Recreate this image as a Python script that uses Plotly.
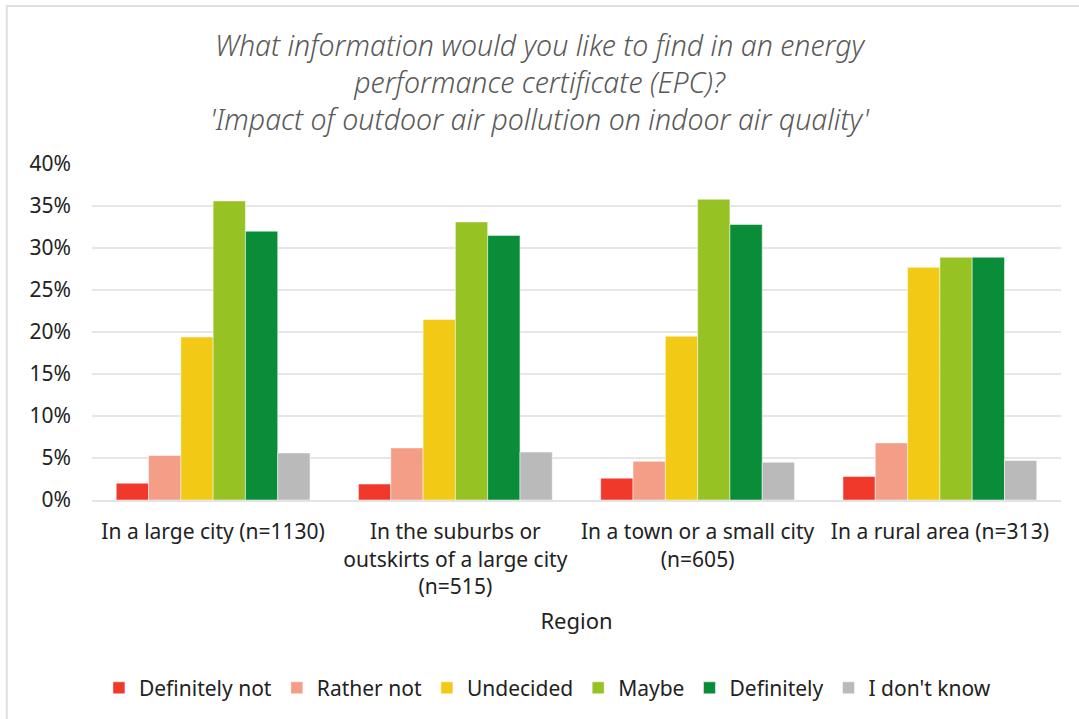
import plotly.graph_objects as go

# regions on the x axis
regions = [
    "In a large city (n=1130)",
    "In the suburbs or<br>outskirts of a large city<br>(n=515)",
    "In a town or a small city<br>(n=605)",
    "In a rural area (n=313)",
]

# shares in % per answer, one value per region
definitely_not = [2.0, 1.9, 2.6, 2.8]
rather_not = [5.3, 6.2, 4.6, 6.8]
undecided = [19.4, 21.5, 19.5, 27.7]
maybe = [35.6, 33.1, 35.8, 28.9]
definitely = [32.0, 31.5, 32.8, 28.9]
dont_know = [5.6, 5.7, 4.5, 4.7]

answers = ["Definitely not", "Rather not", "Undecided", "Maybe", "Definitely", "I don't know"]
series = [definitely_not, rather_not, undecided, maybe, definitely, dont_know]
colors = ["#f0392b", "#f49d87", "#f2c914", "#96c224", "#098d39", "#bababa"]

fig = go.Figure()
for name, vals, col in zip(answers, series, colors):
    fig.add_trace(go.Bar(x=regions, y=vals, name=name, marker_color=col,
                         marker_line_color="white", marker_line_width=0.5))

fig.update_layout(
    width=1079, height=719,
    paper_bgcolor="white", plot_bgcolor="white",
    margin=dict(l=92, r=18, t=164, b=219, autoexpand=False),
    barmode="group", bargap=0.2, bargroupgap=0,
    font=dict(family="Noto Sans", color="#222222", size=20),
    title=dict(
        text="<i>What information would you like to find in an energy<br>"
             "performance certificate (EPC)?<br>"
             "'Impact of outdoor air pollution on indoor air quality'</i>",
        x=0.5, xanchor="center", yref="container", y=1 - 56 / 719, yanchor="top",
        font=dict(family="Noto Sans", size=28.5, color="#595959", weight=300),
    ),
    legend=dict(orientation="h", x=0.47, xanchor="center", y=-0.56, yanchor="middle",
                font=dict(size=21), itemwidth=30, traceorder="normal"),
    showlegend=True,
)
fig.update_xaxes(title=dict(text="Region", font=dict(size=22), standoff=15),
                 showline=True, linecolor="#e3e3e3", linewidth=2, ticks="",
                 tickfont=dict(size=21), ticklabelstandoff=12, automargin=False)
fig.update_yaxes(range=[0, 40], dtick=5, ticksuffix="%", showgrid=True,
                 gridcolor="#e6e6e6", gridwidth=2, zeroline=False,
                 tickfont=dict(size=21), ticklabelstandoff=20, automargin=False)

# light frame around the chart
fig.add_shape(type="rect", xref="paper", yref="paper",
              x0=-0.088, x1=1.05, y0=-0.68, y1=1.47,
              line=dict(color="#e0e0e0", width=2), layer="below")

# page body has a default 8px margin; drop it so the figure sits at the corner
fig.write_html("out.html", config={"displayModeBar": False},
               post_script="document.body.style.margin='0';")
